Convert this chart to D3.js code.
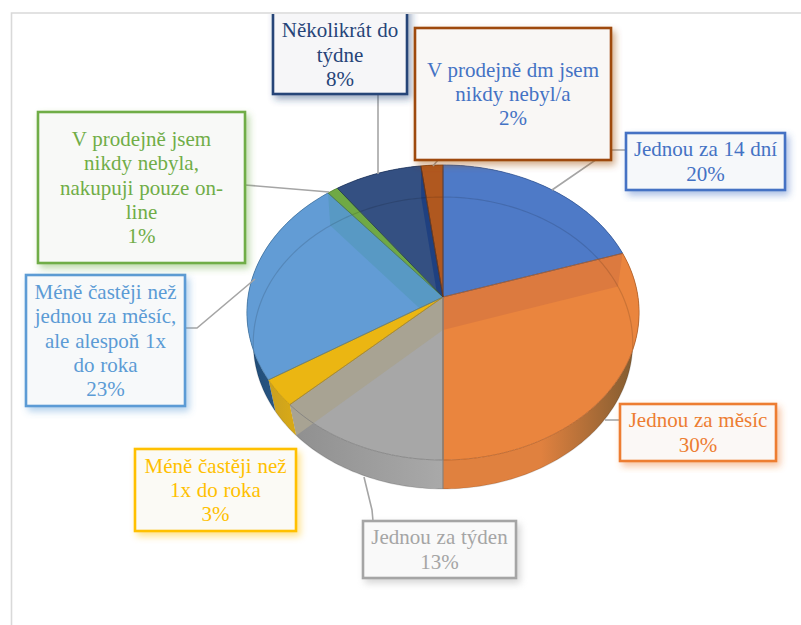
<!DOCTYPE html>
<html><head><meta charset="utf-8">
<script src="https://cdnjs.cloudflare.com/ajax/libs/d3/7.8.5/d3.min.js"></script>
<style>html,body{margin:0;padding:0;background:#fff}svg{display:block}</style>
</head><body><svg id="c" width="801" height="625"></svg>
<script>
// ---- data ----
const categories = ["Jednou za 14 dní","Jednou za měsíc","Jednou za týden","Méně častěji než 1x do roka",
  "Méně častěji než jednou za měsíc, ale alespoň 1x do roka","V prodejně jsem nikdy nebyla, nakupuji pouze on-line",
  "Několikrát do týdne","V prodejně dm jsem nikdy nebyl/a"];
const values = [20,30,13,3,23,1,8,2];
const labelLines = [
  ["Jednou za 14 dní"],["Jednou za měsíc"],["Jednou za týden"],["Méně častěji než","1x do roka"],
  ["Méně častěji než","jednou za měsíc,","ale alespoň 1x","do roka"],
  ["V prodejně jsem","nikdy nebyla,","nakupuji pouze on-","line"],
  ["Několikrát do","týdne"],["V prodejně dm jsem","nikdy nebyl/a"]];
const seriesColors = ["#4472c4","#ed7d31","#a5a5a5","#ffc000","#5b9bd5","#70ad47","#264478","#9e480e"];
const topColors   = ["#4e7ac7","#ea853e","#a7a7a7","#ebb612","#629cd5","#6fa945","#345082","#b0581f"];
const bandColors  = ["#4e7ac7","#dc7a3f","#a8a393","#dca81a","#5899c4","#5c9a3a","#1f4080","#a04e1a"];
const sideStops   = [["#3a62a8","#3a62a8"],["#e0813f","#7d5a30"],["#8f8f8f","#a9a9a9"],["#c9a020","#d6a818"],
                     ["#1f4a75","#3a6c9c"],["#5c9a3a","#5c9a3a"],["#264478","#264478"],["#9e480e","#9e480e"]];
const textColors  = ["#4472c4","#ed7d31","#a5a5a5","#ffc000","#5b9bd5","#70ad47","#264478","#4472c4"];

// ---- layout of callouts (x0,y0,x1,y1) and leader polylines ----
const boxes = [[626,133,785,190],[620,404,776,461],[363,521,516,578],[135,449,296,531],
               [26,275,185,406],[38,112,245,263],[273,4,407,94],[415,28,611,160]];
const leaders = [[[626,150],[610,150],[552,190]],[[620,420],[605,420]],[[373,521],[372,510],[364,477]],
                 [[185,328],[197,328],[255,279]],[[245,185],[329,192]],[[378,94],[378,174]],[[438,160],[433,166]]];
// slices whose cut wall shows through the face: index of slice, and which edge of it
const walls = [[1,"startAngle"],[2,"endAngle"],[4,"endAngle"],[6,"endAngle"]];

const W=801,H=625;
const svg=d3.select("#c");
const defs=svg.append("defs");
defs.append("clipPath").attr("id","frame").append("rect").attr("x",12).attr("y",14).attr("width",W).attr("height",H);

// frame
svg.append("path").attr("d",`M${W},13 H11.5 V${H}`).attr("fill","none").attr("stroke","#d9d9d9").attr("stroke-width",1.6);

// perspective projection of the pie plane
const topLayer={cx:443,cy:297,a:195,b:145.9,k:0.105};
const botLayer={cx:443,cy:330,a:189,b:144.8,k:0.089};
function proj(L,theta,r=1){
  const u=r*Math.sin(theta),v=r*Math.cos(theta),d=1+L.k*v;
  return [L.cx+L.a*u/d, L.cy-L.b*v/d];
}
const line=d3.line();
function arcPts(L,a0,a1){
  const n=Math.max(3,Math.ceil((a1-a0)/0.02)),s=d3.scaleLinear().domain([0,n]).range([a0,a1]);
  return d3.range(n+1).map(i=>proj(L,s(i)));
}
const arcs=d3.pie().sort(null).value(d=>d)(values);
const facePath=d=>line([[topLayer.cx,topLayer.cy]].concat(arcPts(topLayer,d.startAngle,d.endAngle)))+"Z";
const sidePath=d=>line(arcPts(topLayer,d.startAngle,d.endAngle).concat(arcPts(botLayer,d.startAngle,d.endAngle).reverse()))+"Z";

const gPie=svg.append("g");
const gLead=svg.append("g");

// outer side walls
arcs.forEach((d,i)=>{
  const id="side"+i,xs=arcPts(topLayer,d.startAngle,d.endAngle).map(p=>p[0]);
  const lg=defs.append("linearGradient").attr("id",id).attr("gradientUnits","userSpaceOnUse")
    .attr("x1",d3.min(xs)).attr("x2",d3.max(xs)).attr("y1",0).attr("y2",0);
  const st=sideStops[i];
  const stops=i===1?[st[0],st[0],st[1]]:[st[0],st[1]];
  stops.forEach((c,j)=>lg.append("stop").attr("offset",j/(stops.length-1)).attr("stop-color",c));
  gPie.append("path").attr("d",sidePath(d)).attr("fill",`url(#${id})`);
});
// top faces
arcs.forEach((d,i)=>{
  gPie.append("path").attr("d",facePath(d)).attr("fill",topColors[i]);
});
// cut walls seen through the translucent faces, kept inside their own slice
walls.forEach(([i,edge])=>{
  const d=arcs[i],a=d[edge];
  const cp=defs.append("clipPath").attr("id","wc"+i);
  cp.append("path").attr("d",facePath(d));
  cp.append("path").attr("d",sidePath(d));
  const pts=[[topLayer.cx,topLayer.cy],proj(topLayer,a),proj(botLayer,a),[botLayer.cx,botLayer.cy]];
  gPie.append("path").attr("d",line(pts)+"Z").attr("fill",bandColors[i]).attr("clip-path",`url(#wc${i})`);
});
// yellow slice's front corner
// rim of the bottom disc, seen through
gPie.append("path").attr("d",line(arcPts(botLayer,0,2*Math.PI))+"Z").attr("fill","none").attr("stroke","#000").attr("stroke-opacity",.13).attr("stroke-width",1.2);
// top outlines
arcs.forEach((d,i)=>{
  gPie.append("path").attr("d",facePath(d)).attr("fill","none")
    .attr("stroke",d3.color(seriesColors[i]).darker(.8)).attr("stroke-opacity",.75).attr("stroke-width",1);
});
// vertical front seam
const seam=arcs[2].startAngle;
gPie.append("path").attr("d",line([[topLayer.cx,topLayer.cy],proj(botLayer,seam)])).attr("stroke","#8a8078").attr("stroke-width",1.2);

// leaders
leaders.forEach(l=>{
  gLead.append("path").attr("d",line(l)).attr("fill","none").attr("stroke","#a5a5a5").attr("stroke-width",1.6);
});

// callouts
const gBox=svg.append("g").attr("clip-path","url(#frame)");
boxes.forEach((b,i)=>{
  const c=seriesColors[i],pct=values[i]+"%";
  const f=defs.append("filter").attr("id","sh"+i).attr("x","-20%").attr("y","-20%").attr("width","140%").attr("height","140%");
  f.append("feDropShadow").attr("dx",3).attr("dy",4).attr("stdDeviation",3.5).attr("flood-color",c).attr("flood-opacity",.45);
  gBox.append("rect").attr("x",b[0]).attr("y",b[1]).attr("width",b[2]-b[0]).attr("height",b[3]-b[1])
    .attr("fill",d3.interpolateRgb(c,"#fbfbfb")(.975)).attr("stroke",c).attr("stroke-width",2.6).attr("filter",`url(#sh${i})`);
  const lines=labelLines[i].concat([pct]),lh=24.4,cx=(b[0]+b[2])/2;
  const cy=i===6?54.5:(b[1]+b[3])/2;
  const y0=cy-(lines.length-1)*lh/2+7;
  gBox.append("g").selectAll("text").data(lines).join("text")
    .attr("x",cx).attr("y",(t,j)=>y0+j*lh).attr("text-anchor","middle")
    .attr("font-family","'Liberation Serif',serif").attr("font-size",21).attr("word-spacing",.5)
    .attr("fill",textColors[i]).text(t=>t);
});
</script></body></html>
